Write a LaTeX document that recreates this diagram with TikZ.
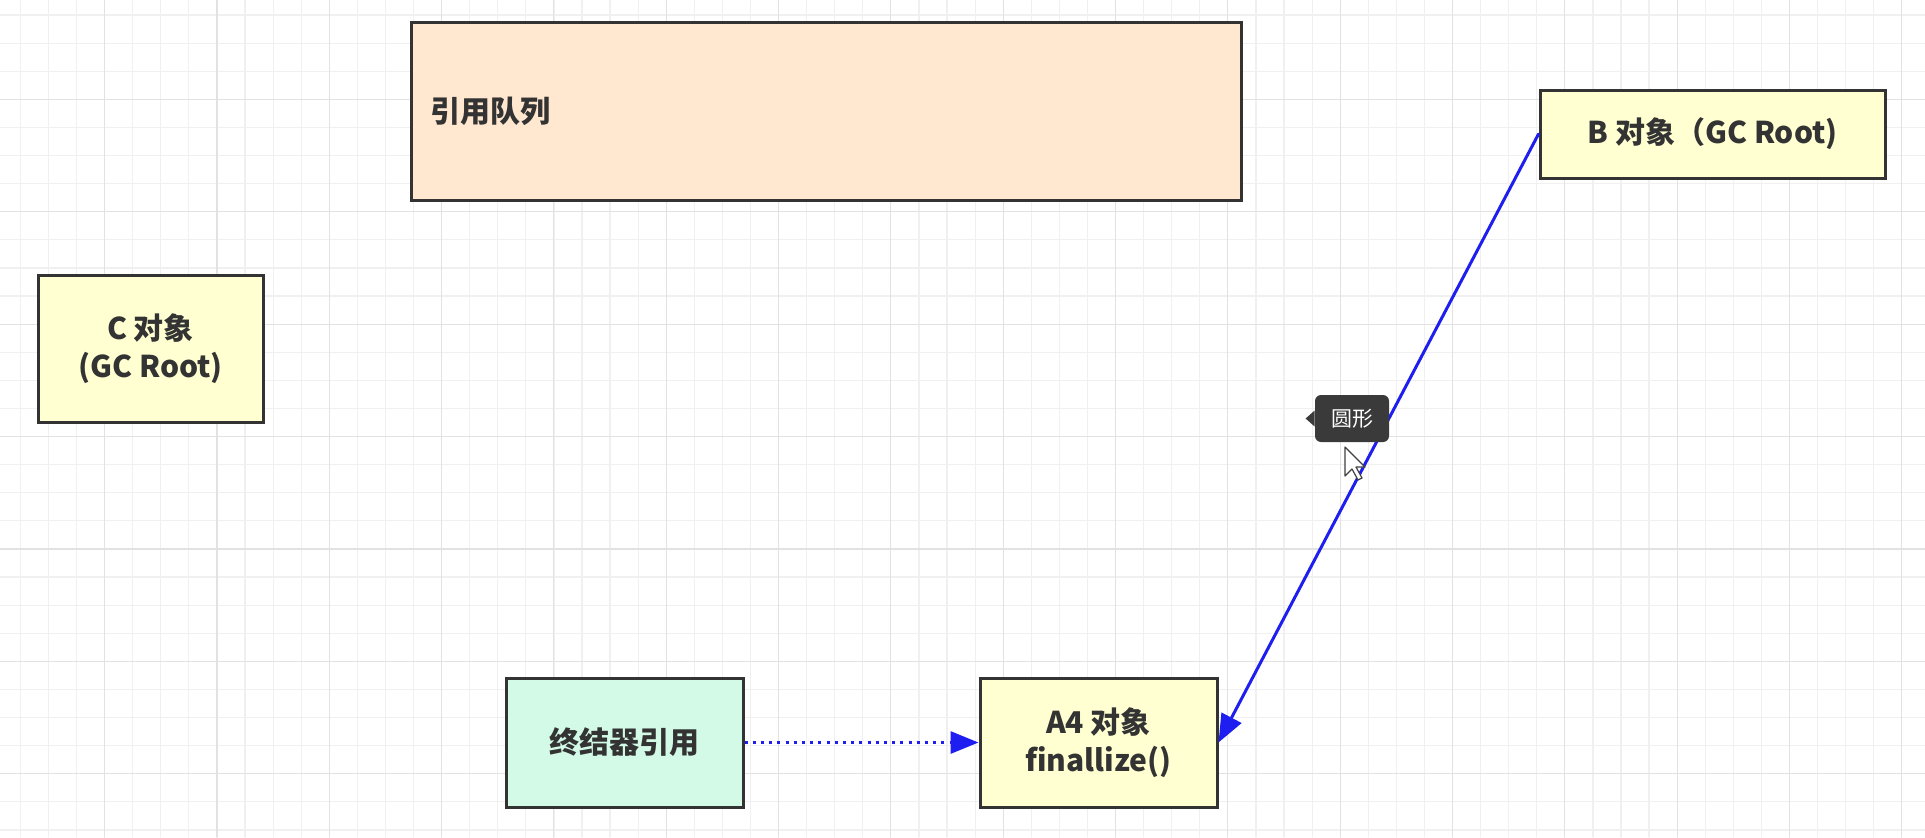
\documentclass[tikz,border=0pt]{standalone}
\usepackage{fontspec}
\setmainfont{Noto Sans CJK SC}
\usetikzlibrary{arrows.meta}
\usepackage{xcolor}

\definecolor{boxline}{HTML}{333333}
\definecolor{queuefill}{HTML}{FFE7D0}
\definecolor{objfill}{HTML}{FFFFD2}
\definecolor{finfill}{HTML}{D2FAE6}
\definecolor{linkblue}{HTML}{1E1EF0}
\definecolor{tipgray}{HTML}{3A3A3A}
\definecolor{gridminor}{HTML}{F0F0F0}
\definecolor{gridmajor}{HTML}{E2E2E2}

\tikzset{
  box/.style={draw=boxline,line width=1.5pt,text=boxline,align=center,inner sep=0pt,
    font=\fontsize{15}{19}\selectfont\bfseries},
  link/.style={draw=linkblue,line width=1.5pt,-{Triangle[length=14pt,width=11pt]}}
}

\begin{document}
\begin{tikzpicture}[x=0.5pt,y=-0.5pt,line cap=round]
\useasboundingbox (0,0) rectangle (1925,837);
\fill[white] (0,0) rectangle (1925,837);
% grid
\foreach \i in {0,...,68} {
  \draw[gridminor,line width=0.6pt] ({20.4+28.08*\i},0) -- ({20.4+28.08*\i},837);
}
\foreach \i in {0,...,29} {
  \draw[gridminor,line width=0.6pt] (0,{15+28.1*\i}) -- (1925,{15+28.1*\i});
}
\foreach \i in {0,...,17} {
  \draw[gridmajor,line width=0.6pt] ({104.6+112.32*\i},0) -- ({104.6+112.32*\i},837);
}
\foreach \i in {0,...,7} {
  \draw[gridmajor,line width=0.6pt] (0,{99.3+112.4*\i}) -- (1925,{99.3+112.4*\i});
}

% boxes
\node[box,fill=queuefill,minimum width=415pt,minimum height=89pt,text width=396pt,align=left]
  (queue) at (826,111) {引用队列};
\node[box,fill=objfill,minimum width=172.5pt,minimum height=44pt] (objB) at (1712.5,134) {B 对象（GC Root)};
\node[box,fill=objfill,minimum width=112.5pt,minimum height=73.5pt] (objC) at (150.5,348.5) {C 对象\\(GC Root)};
\node[box,fill=finfill,minimum width=118.5pt,minimum height=64.5pt] (finref) at (624.5,742.5) {终结器引用};
\node[box,fill=objfill,minimum width=118.5pt,minimum height=64.5pt] (objA) at (1098.5,742.5) {A4 对象\\finallize()};

% connectors
\draw[link] (objB.west) -- (objA.east);
\draw[link,dash pattern=on 1.5pt off 2.6pt,line cap=butt] (finref.east) -- (objA.west);

% hover tooltip and cursor
\node[fill=tipgray,rounded corners=3pt,text=white,minimum width=37pt,minimum height=23.5pt,
  inner sep=0pt,font=\fontsize{10.5}{12}\selectfont] (tip) at (1352,418.5) {圆形};
\fill[tipgray] ([yshift=4pt]tip.west) -- ++(-9,8) -- ++(9,8) -- cycle;
\draw[fill=white,draw=black!75,line width=0.6pt,line join=round,shift={(1345,447)}]
  (0,0) -- (0,29) -- (7,22) -- (13,33) -- (17,31) -- (11,20) -- (20,20) -- cycle;
\end{tikzpicture}
\end{document}
